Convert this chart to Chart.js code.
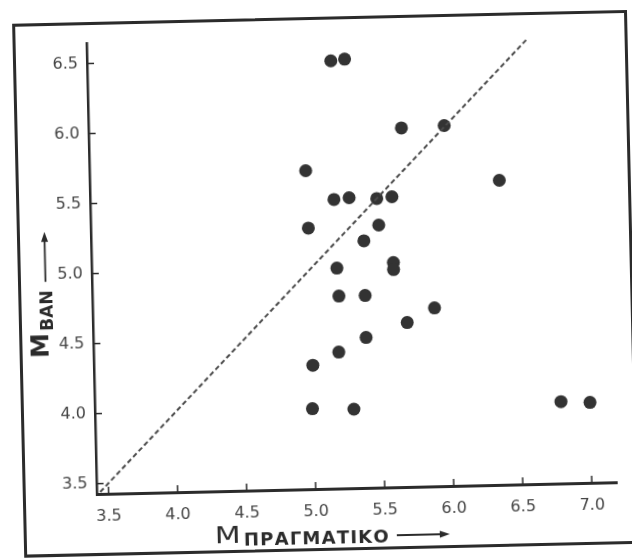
<!DOCTYPE html>
<html>
<head>
<meta charset="utf-8">
<script src="https://cdn.jsdelivr.net/npm/chart.js@4.4.1/dist/chart.umd.min.js"></script>
<style>
  html, body { margin: 0; padding: 0; background: #fff; overflow: hidden; }
  #page {
    position: relative;
    width: 632px;
    height: 559px;
    transform: rotate(-1.3deg);
    transform-origin: 316px 279.5px;
  }
  #frame {
    position: absolute;
    left: 18px;
    top: 17px;
    width: 615px;
    height: 534px;
    border: 3px solid #2b2b2b;
    box-sizing: border-box;
  }
  canvas { position: absolute; left: 0; top: 0; }
</style>
</head>
<body>
<div id="page">
  <div id="frame"></div>
  <canvas id="chart" width="632" height="559"></canvas>
</div>
<script>
// values
const mActual = [5.18, 5.28, 5.68, 5.99, 4.98, 6.38, 5.18, 5.29, 5.49, 5.60, 4.99, 5.50, 5.39, 5.19,
                 5.60, 5.60, 5.20, 5.39, 5.89, 5.69, 5.39, 5.19, 5.00, 4.99, 5.29, 6.79, 7.00];
const mBan = [6.48, 6.49, 5.99, 6.00, 5.70, 5.60, 5.49, 5.50, 5.49, 5.50, 5.29, 5.30, 5.19, 5.00,
              5.03, 4.98, 4.80, 4.80, 4.70, 4.60, 4.50, 4.40, 4.31, 4.00, 3.99, 4.01, 4.00];

// dashed 1:1 line
const lineX = [3.44, 6.61];
const lineY = [3.44, 6.61];

const xTicks = [3.5, 4.0, 4.5, 5.0, 5.5, 6.0, 6.5, 7.0];
const yTicks = [3.5, 4.0, 4.5, 5.0, 5.5, 6.0, 6.5];

const xTitle = "ΠΡΑΓΜΑΤΙΚΟ";
const yTitle = "BAN";

const ink = "#2b2b2b";

const points = mActual.map((v, i) => ({ x: v, y: mBan[i] }));
const diag = lineX.map((v, i) => ({ x: v, y: lineY[i] }));

function drawArrow(ctx, x0, x1, y) {
    ctx.beginPath();
    ctx.moveTo(x0, y);
    ctx.lineTo(x1 - 6, y);
    ctx.stroke();
    ctx.beginPath();
    ctx.moveTo(x1, y);
    ctx.lineTo(x1 - 10, y - 3.5);
    ctx.lineTo(x1 - 10, y + 3.5);
    ctx.closePath();
    ctx.fill();
}

const extras = {
    id: "extras",
    afterDraw(chart) {
        const ctx = chart.ctx;
        const area = chart.chartArea;
        const xs = chart.scales.x;
        const ys = chart.scales.y;

        ctx.save();
        // inward tick marks
        ctx.strokeStyle = ink;
        ctx.lineWidth = 1.5;
        xTicks.forEach(v => {
            const px = xs.getPixelForValue(v);
            ctx.beginPath();
            ctx.moveTo(px, area.bottom);
            ctx.lineTo(px, area.bottom - 7);
            ctx.stroke();
        });
        yTicks.forEach(v => {
            const py = ys.getPixelForValue(v);
            ctx.beginPath();
            ctx.moveTo(area.left, py);
            ctx.lineTo(area.left + 7, py);
            ctx.stroke();
        });

        ctx.fillStyle = ink;
        ctx.textAlign = "left";
        ctx.textBaseline = "alphabetic";

        // x title
        ctx.font = '23px "DejaVu Sans"';
        ctx.save();
        ctx.translate(209, 541);
        ctx.scale(1.3, 0.98);
        ctx.fillText("M", 0, 0);
        ctx.restore();
        ctx.font = 'bold 18px "DejaVu Sans"';
        const w = ctx.measureText(xTitle).width;
        ctx.letterSpacing = ((146 - w) / xTitle.length).toFixed(2) + "px";
        ctx.fillText(xTitle, 238, 544);
        ctx.letterSpacing = "0px";
        ctx.lineWidth = 1.8;
        drawArrow(ctx, 391, 444, 537);

        // y title
        ctx.translate(46.5, 351.7);
        ctx.rotate(-Math.PI / 2);
        ctx.font = 'bold 25px "DejaVu Sans"';
        ctx.fillText("M", 0, 0);
        ctx.font = 'bold 17px "DejaVu Sans"';
        ctx.fillText(yTitle, 27, 5.8);
        drawArrow(ctx, 76, 126, -1);
        ctx.restore();
    }
};

new Chart(document.getElementById("chart"), {
    type: "scatter",
    data: {
        datasets: [
            {
                type: "line",
                data: diag,
                borderColor: "#4a4a4a",
                borderWidth: 2,
                borderDash: [5, 3],
                pointRadius: 0,
                fill: false
            },
            {
                data: points,
                backgroundColor: "#333",
                borderWidth: 0,
                pointRadius: 6.5
            }
        ]
    },
    options: {
        responsive: false,
        animation: false,
        layout: { padding: { top: 38, right: 20, left: 0, bottom: 0 } },
        plugins: { legend: { display: false }, tooltip: { enabled: false } },
        scales: {
            x: {
                type: "linear",
                min: 3.415,
                max: 7.18,
                afterBuildTicks: s => { s.ticks = xTicks.map(v => ({ value: v })); },
                afterFit: s => { s.height = 70; },
                grid: { display: false, drawTicks: false },
                border: { display: true, color: ink, width: 3 },
                ticks: {
                    padding: 13,
                    color: "#444",
                    font: { family: "DejaVu Sans", size: 16 },
                    callback: v => v.toFixed(1),
                    maxRotation: 0
                }
            },
            y: {
                type: "linear",
                min: 3.426,
                max: 6.646,
                afterBuildTicks: s => { s.ticks = yTicks.map(v => ({ value: v })); },
                afterFit: s => { s.width = 92; },
                grid: { display: false, drawTicks: false },
                border: { display: true, color: ink, width: 2.5 },
                ticks: {
                    padding: 9,
                    color: "#444",
                    font: { family: "DejaVu Sans", size: 16 },
                    callback: v => v.toFixed(1)
                }
            }
        }
    },
    plugins: [extras]
});
</script>
</body>
</html>
